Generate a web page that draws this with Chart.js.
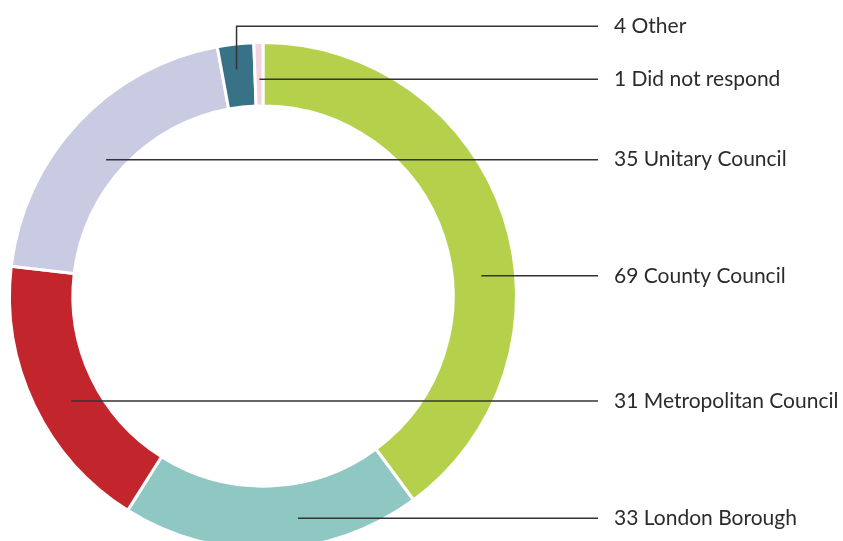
<!DOCTYPE html>
<html>
<head>
<meta charset="utf-8">
<script src="https://cdn.jsdelivr.net/npm/chart.js@4"></script>
<style>
    html, body { margin: 0; padding: 0; background: #fff; overflow: hidden; }
    #wrap { position: relative; width: 843px; height: 570px; }
</style>
</head>
<body>
<div id="wrap"><canvas id="councilChart"></canvas></div>
<script>
// council types, clockwise from the top
const categories = ['County Council', 'London Borough', 'Metropolitan Council', 'Unitary Council', 'Other', 'Did not respond'];
const responses = [69, 33, 31, 35, 4, 1];
const sliceColours = ['#b5d14b', '#8fc8c2', '#c3252c', '#c9cbe3', '#387286', '#f3d4dc'];

// where the leader line starts inside each slice: [fraction along arc, fraction across ring]
const leaderAnchor = [[0.59, 0.46], [0.40, 0.55], [0.45, 0.45], [0.47, 0.28], [0.45, 0.6], [0.55, 0.42]];
const lineEndX = 598;
const textX = 614;
const minGap = 53;

const leaderLabels = {
    id: 'leaderLabels',
    afterDraw(chart) {
        const ctx = chart.ctx;
        const arcs = chart.getDatasetMeta(0).data;
        const items = arcs.map((arc, i) => {
            const p = arc.getProps(['x', 'y', 'startAngle', 'endAngle', 'innerRadius', 'outerRadius'], true);
            const a = p.startAngle + leaderAnchor[i][0] * (p.endAngle - p.startAngle);
            const r = p.innerRadius + leaderAnchor[i][1] * (p.outerRadius - p.innerRadius);
            const ax = p.x + r * Math.cos(a);
            const ay = p.y + r * Math.sin(a);
            return { i, ax, ay, ly: ay };
        });

        // push labels apart, working upwards from the bottom
        const sorted = items.slice().sort((a, b) => b.ay - a.ay);
        for (let k = 1; k < sorted.length; k++) {
            const below = sorted[k - 1];
            if (below.ly - sorted[k].ly < minGap) {
                sorted[k].ly = below.ly - minGap;
            }
        }

        ctx.save();
        ctx.strokeStyle = '#333333';
        ctx.lineWidth = 1.5;
        ctx.fillStyle = '#2b2b2b';
        ctx.font = '21px Lato, "Open Sans", sans-serif';
        ctx.textBaseline = 'middle';
        ctx.textAlign = 'left';
        items.forEach(it => {
            ctx.beginPath();
            ctx.moveTo(it.ax, it.ay);
            if (Math.abs(it.ly - it.ay) > 0.5) {
                ctx.lineTo(it.ax, it.ly);
            }
            ctx.lineTo(lineEndX, it.ly);
            ctx.stroke();
            ctx.fillText(responses[it.i] + ' ' + categories[it.i], textX, it.ly);
        });
        ctx.restore();
    }
};

new Chart(document.getElementById('councilChart'), {
    type: 'doughnut',
    data: {
        labels: categories,
        datasets: [{
            data: responses,
            backgroundColor: sliceColours,
            borderColor: '#ffffff',
            borderWidth: 3,
            hoverOffset: 0
        }]
    },
    options: {
        responsive: true,
        maintainAspectRatio: false,
        animation: false,
        cutout: '75%',
        layout: {
            padding: { top: 41, left: 8, right: 325, bottom: 19 }
        },
        plugins: {
            legend: { display: false },
            tooltip: { enabled: false }
        }
    },
    plugins: [leaderLabels]
});
</script>
</body>
</html>
